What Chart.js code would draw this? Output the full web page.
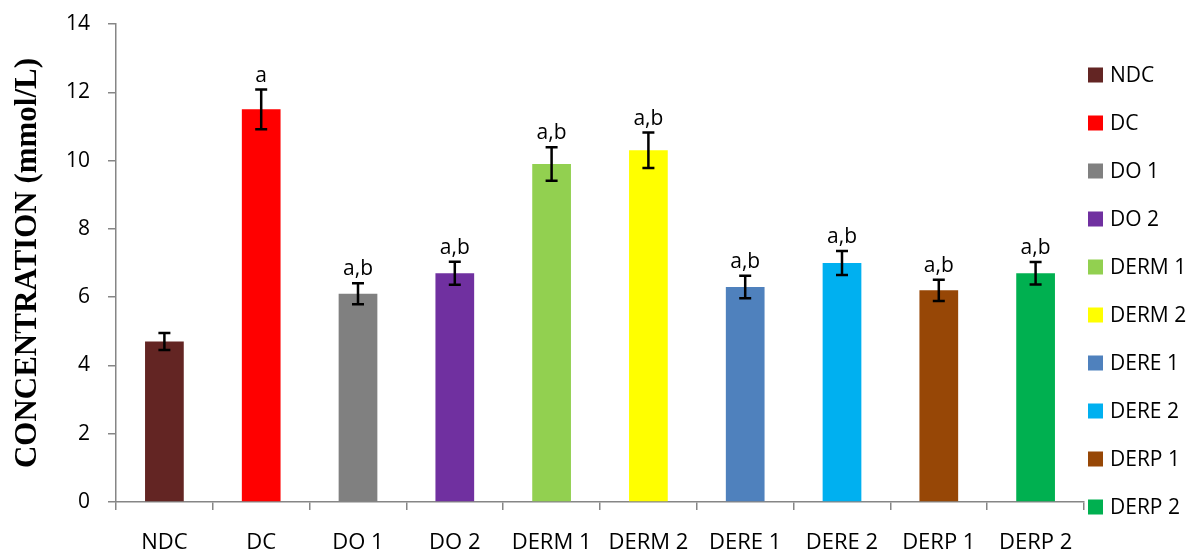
<!DOCTYPE html>
<html>
<head>
<meta charset="utf-8">
<script src="https://cdn.jsdelivr.net/npm/chart.js@4/dist/chart.umd.min.js"></script>
<style>
  html, body { margin: 0; padding: 0; background: #ffffff; }
  #wrap { width: 1196px; height: 557px; position: relative; }
</style>
</head>
<body>
<div id="wrap"><canvas id="chart"></canvas></div>
<script>
// Group names along the x axis and in the legend
const groups = ['NDC', 'DC', 'DO 1', 'DO 2', 'DERM 1', 'DERM 2', 'DERE 1', 'DERE 2', 'DERP 1', 'DERP 2'];
// Mean concentration (mmol/L) per group
const meanValues = [4.7, 11.5, 6.1, 6.7, 9.9, 10.3, 6.3, 7.0, 6.2, 6.7];
// Standard error per group
const errorValues = [0.25, 0.58, 0.31, 0.34, 0.49, 0.52, 0.33, 0.35, 0.31, 0.33];
// Significance letters shown above each bar
const sigLetters = ['', 'a', 'a,b', 'a,b', 'a,b', 'a,b', 'a,b', 'a,b', 'a,b', 'a,b'];
// Bar fill colours per group
const groupColors = ['#632523', '#FF0000', '#808080', '#7030A0', '#92D050', '#FFFF00', '#4F81BD', '#00B0F0', '#974706', '#00B050'];
// Y axis tick values
const yTicks = [0, 2, 4, 6, 8, 10, 12, 14];

const AXIS_GREY = '#868686';
const SANS = '"Open Sans", "Noto Sans", sans-serif';

// Error bars with caps plus the significance letters above them
const errorBarPlugin = {
  id: 'errorBars',
  afterDatasetsDraw(chart) {
    const ctx = chart.ctx;
    const yScale = chart.scales.y;
    const meta = chart.getDatasetMeta(0);
    ctx.save();
    ctx.strokeStyle = '#000000';
    ctx.lineWidth = 2.5;
    meta.data.forEach((bar, i) => {
      const x = bar.x;
      const yTop = yScale.getPixelForValue(meanValues[i] + errorValues[i]);
      const yBot = yScale.getPixelForValue(meanValues[i] - errorValues[i]);
      const cap = 6;
      ctx.beginPath();
      ctx.moveTo(x, yTop); ctx.lineTo(x, yBot);
      ctx.moveTo(x - cap, yTop); ctx.lineTo(x + cap, yTop);
      ctx.moveTo(x - cap, yBot); ctx.lineTo(x + cap, yBot);
      ctx.stroke();
      if (sigLetters[i]) {
        ctx.fillStyle = '#000000';
        ctx.font = '21px ' + SANS;
        ctx.textAlign = 'center';
        ctx.textBaseline = 'alphabetic';
        ctx.fillText(sigLetters[i], x, yTop - 8);
      }
    });
    ctx.restore();
  }
};

// Legend column to the right of the plot, one swatch per group
const sideLegendPlugin = {
  id: 'sideLegend',
  afterDraw(chart, args, opts) {
    const ctx = chart.ctx;
    const colors = chart.data.datasets[0].backgroundColor;
    ctx.save();
    ctx.font = opts.fontSize + 'px ' + SANS;
    ctx.textAlign = 'left';
    ctx.textBaseline = 'middle';
    chart.data.labels.forEach((label, i) => {
      const cy = opts.firstY + i * opts.step;
      ctx.fillStyle = colors[i];
      ctx.fillRect(opts.boxX, cy - opts.box / 2, opts.box, opts.box);
      ctx.fillStyle = '#000000';
      ctx.fillText(label, opts.textX, cy + 1);
    });
    ctx.restore();
  }
};

new Chart(document.getElementById('chart'), {
  type: 'bar',
  data: {
    labels: groups,
    datasets: [{
      data: meanValues,
      backgroundColor: groupColors,
      borderWidth: 0,
      barPercentage: 0.4,
      categoryPercentage: 1.0
    }]
  },
  options: {
    responsive: true,
    maintainAspectRatio: false,
    animation: false,
    layout: { padding: { left: 0, top: 24, right: 112, bottom: 0 } },
    plugins: {
      legend: { display: false },
      tooltip: { enabled: false },
      sideLegend: { boxX: 1088, textX: 1110, firstY: 75, step: 48, box: 15, fontSize: 21 }
    },
    scales: {
      x: {
        offset: true,
        grid: {
          display: true,
          offset: true,
          drawOnChartArea: false,
          drawTicks: true,
          tickLength: 8,
          color: AXIS_GREY,
          lineWidth: 1.5
        },
        border: { display: true, color: AXIS_GREY, width: 1.5 },
        ticks: {
          color: '#000000',
          font: { family: SANS, size: 22 },
          padding: 20,
          maxRotation: 0,
          autoSkip: false
        },
        afterFit(scale) { scale.height = 55; }
      },
      y: {
        min: 0,
        max: 14,
        afterBuildTicks(scale) { scale.ticks = yTicks.map(v => ({ value: v })); },
        grid: {
          display: true,
          drawOnChartArea: false,
          drawTicks: true,
          tickLength: 8,
          color: AXIS_GREY,
          lineWidth: 1.5
        },
        border: { display: true, color: AXIS_GREY, width: 1.5 },
        ticks: {
          color: '#000000',
          font: { family: SANS, size: 21 },
          padding: 18
        },
        title: {
          display: true,
          text: 'CONCENTRATION (mmol/L)',
          color: '#000000',
          font: { family: '"Liberation Serif", "Times New Roman", serif', size: 31, weight: 'bold' },
          padding: { top: 9, bottom: 0 }
        },
        afterFit(scale) {
          scale.width = 116;
          scale.paddingTop = 0;
          scale.paddingBottom = 0;
        }
      }
    }
  },
  plugins: [errorBarPlugin, sideLegendPlugin]
});
</script>
</body>
</html>
